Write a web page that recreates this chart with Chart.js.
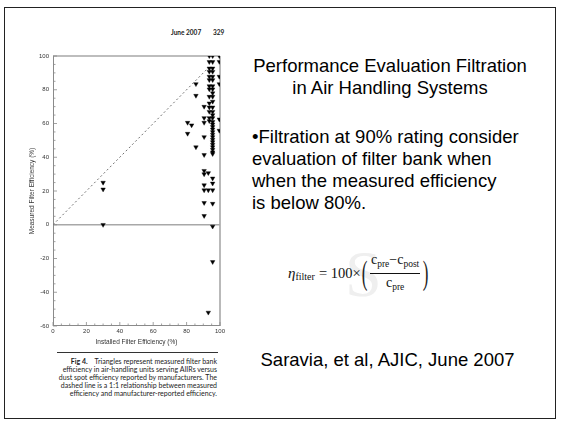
<!DOCTYPE html>
<html><head><meta charset="utf-8">
<script src="https://cdn.jsdelivr.net/npm/chart.js@4.4.1/dist/chart.umd.min.js"></script>
<style>
html,body{margin:0;padding:0;background:#fff;width:561px;height:424px;overflow:hidden;position:relative;}
#frame{position:absolute;left:4px;top:7px;width:552px;height:412px;border:1px solid #222;box-sizing:border-box;}
#chartBox{position:absolute;left:0;top:0;width:240px;height:350px;}
.t{position:absolute;font-family:"Liberation Sans",Arial,sans-serif;color:#000;white-space:nowrap;}
.hdr{position:absolute;font-family:"Lato","Liberation Sans",sans-serif;font-weight:bold;font-size:6.5px;color:#222;white-space:nowrap;line-height:8px;}
#caption{position:absolute;right:344px;top:357px;font-family:"Lato","Liberation Sans",sans-serif;font-size:7px;line-height:8px;text-align:right;color:#222;white-space:nowrap;}
#sep{position:absolute;left:57px;top:352px;width:161px;height:1px;background:#333;}
#formula{position:absolute;left:288px;top:256px;height:34px;display:flex;align-items:center;font-family:"Liberation Serif","Times New Roman",serif;color:#111;white-space:nowrap;}
.frac{display:inline-flex;flex-direction:column;align-items:center;font-size:14px;line-height:14px;margin:0 2px;}
.frac .num{border-bottom:0.8px solid #111;padding:0 1px 2px 1px;}
.frac .den{padding-top:2px;}
.paren{font-size:34px;font-weight:100;line-height:34px;transform:scaleX(0.5);display:inline-block;color:#222;margin:0 -2px;}
sub{font-size:9.5px;vertical-align:-3px;}
#wm{position:absolute;left:340px;top:250px;width:50px;height:50px;overflow:hidden;}
#wm span{position:absolute;left:5px;top:-12px;font-family:"Liberation Serif",serif;font-size:66px;color:#efefef;line-height:72px;}
</style></head>
<body>
<div id="frame"></div>
<div class="hdr" style="left:171px;top:28.5px;">June 2007</div>
<div class="hdr" style="left:213px;top:28.5px;">329</div>

<div id="chartBox"><canvas id="c" width="240" height="350"></canvas></div>
<div id="sep"></div>
<div id="caption"><b>Fig 4.</b>&nbsp;&nbsp;&nbsp; Triangles represent measured filter bank<br>efficiency in air-handling units serving AIIRs versus<br>dust spot efficiency reported by manufacturers. The<br>dashed line is a 1:1 relationship between measured<br>efficiency and manufacturer-reported efficiency.</div>

<div class="t" style="left:240px;top:55px;width:300px;text-align:center;font-size:18.5px;line-height:22px;">Performance Evaluation Filtration<br>in Air Handling Systems</div>
<div class="t" style="left:252px;top:126px;font-size:18.5px;line-height:22px;">•Filtration at 90% rating consider<br>evaluation of filter bank when<br>when the measured efficiency<br>is below 80%.</div>

<div id="wm"><span>S</span></div>
<div id="formula">
  <span style="font-size:15px;font-style:italic;">η</span><span style="font-size:10px;position:relative;top:3px;">filter</span>
  <span style="font-size:14.5px;margin-left:4px;">=&nbsp;100×</span>
  <span class="paren">(</span>
  <span class="frac"><span class="num">c<sub>pre</sub>−c<sub>post</sub></span><span class="den">c<sub>pre</sub></span></span>
  <span class="paren">)</span>
</div>

<div class="t" style="left:260.5px;top:349px;font-size:18.5px;line-height:22px;">Saravia, et al, AJIC, June 2007</div>

<script>
// Installed (manufacturer) filter efficiency groups (x) and measured efficiencies (y)
const installed = [30, 80.6, 83, 85.6, 90.5, 93, 93.6, 95.6, 99.6];
const measured = [
  [25, 21, 0],
  [60.5, 54],
  [59],
  [83.4, 76.5, 46],
  [70, 63.3, 60.5, 52, 41.4, 32, 30, 23.5, 20.5, 13, 5.3],
  [30.7, 20.5, -52],
  [100, 96.5, 92.7, 90.7, 87.8, 85.8, 82.2, 80.3, 75.9, 72, 69.6, 67, 63.3, 61.5],
  [100, 96.5, 92.7, 90.7, 87.8, 85.8, 82.2, 80.3, 78, 75.9, 73, 69.6, 67, 65, 63.3, 61, 59.5, 58, 56.5, 55, 53.5, 52, 50.5, 49, 47.5, 46, 44.5, 43, 42, 27.5, 24.5, 20.5, 12.5, -1, -22],
  [100, 96.6, 87.8, 83.4, 62.5, 55.8]
];
const oneToOneX = [0, 92];
const oneToOneY = [0, 92];
const xTicks = [0, 20, 40, 60, 80, 100];
const yTicks = [-60, -40, -20, 0, 20, 40, 60, 80, 100];

const points = [];
installed.forEach((x, i) => measured[i].forEach(y => points.push({x, y})));
const linePts = oneToOneX.map((x, i) => ({x, y: oneToOneY[i]}));

const frameLines = {
  id: 'frameLines',
  beforeDatasetsDraw(chart) {
    const {ctx} = chart;
    const xs = chart.scales.x, ys = chart.scales.y;
    const X = v => xs.getPixelForValue(v), Y = v => ys.getPixelForValue(v);
    ctx.save();
    ctx.strokeStyle = '#a8a8a8';
    ctx.lineWidth = 1.6;
    ctx.beginPath();
    ctx.moveTo(X(0), Y(100)); ctx.lineTo(X(100), Y(100));
    ctx.moveTo(X(100), Y(100)); ctx.lineTo(X(100), Y(-60));
    ctx.moveTo(X(0), Y(0)); ctx.lineTo(X(100), Y(0));
    ctx.stroke();
    ctx.strokeStyle = '#8a8a8a';
    ctx.lineWidth = 1;
    ctx.beginPath();
    ctx.moveTo(X(0)+0.5, Y(100)); ctx.lineTo(X(0)+0.5, Y(-60));
    ctx.moveTo(X(0), Y(-60)-0.5); ctx.lineTo(X(100), Y(-60)-0.5);
    ctx.stroke();
    ctx.lineWidth = 0.8;
    ctx.beginPath();
    for (let v = -60; v <= 100; v += 5) {
      const len = (v % 20 === 0) ? 4 : 2.5;
      ctx.moveTo(X(0), Y(v)); ctx.lineTo(X(0) + len, Y(v));
    }
    for (let v = 0; v <= 100; v += 5) {
      const len = (v % 20 === 0) ? 4 : 2.5;
      ctx.moveTo(X(v), Y(-60)); ctx.lineTo(X(v), Y(-60) - len);
    }
    ctx.stroke();
    ctx.restore();
  }
};

new Chart(document.getElementById('c'), {
  type: 'scatter',
  data: {
    datasets: [
      {label: '1:1', data: linePts, showLine: true, borderColor: '#707070', borderWidth: 1, borderDash: [2, 2.5], pointRadius: 0, order: 2},
      {label: 'Measured', data: points, pointStyle: 'triangle', rotation: 180, pointRadius: 2.6, backgroundColor: '#000', borderColor: '#000', borderWidth: 0.4, order: 1}
    ]
  },
  options: {
    responsive: false, animation: false,
    layout: {padding: {left: 0, top: 56, right: 20, bottom: 2}},
    plugins: {legend: {display: false}, tooltip: {enabled: false}},
    scales: {
      x: {
        type: 'linear', min: 0, max: 100,
        afterBuildTicks(s) { s.ticks = xTicks.map(v => ({value: v})); },
        ticks: {font: {family: 'Liberation Sans', size: 6}, color: '#333', padding: 2, maxRotation: 0},
        grid: {display: false, drawTicks: false}, border: {display: false},
        title: {display: true, text: 'Installed Filter Efficiency (%)', font: {family: 'Liberation Sans', size: 6.5}, color: '#333', padding: {top: 0, bottom: 2}},
        afterFit(s) { s.height = 22; }
      },
      y: {
        type: 'linear', min: -60, max: 100,
        afterBuildTicks(s) { s.ticks = yTicks.map(v => ({value: v})); },
        ticks: {font: {family: 'Liberation Sans', size: 6}, color: '#333', padding: 4},
        grid: {display: false, drawTicks: false}, border: {display: false},
        title: {display: true, text: 'Measured Filter Efficiency (%)', font: {family: 'Liberation Sans', size: 6.5}, color: '#333', padding: {top: 28, bottom: 0}},
        afterFit(s) { s.width = 53; }
      }
    }
  },
  plugins: [frameLines]
});
</script>
</body></html>
